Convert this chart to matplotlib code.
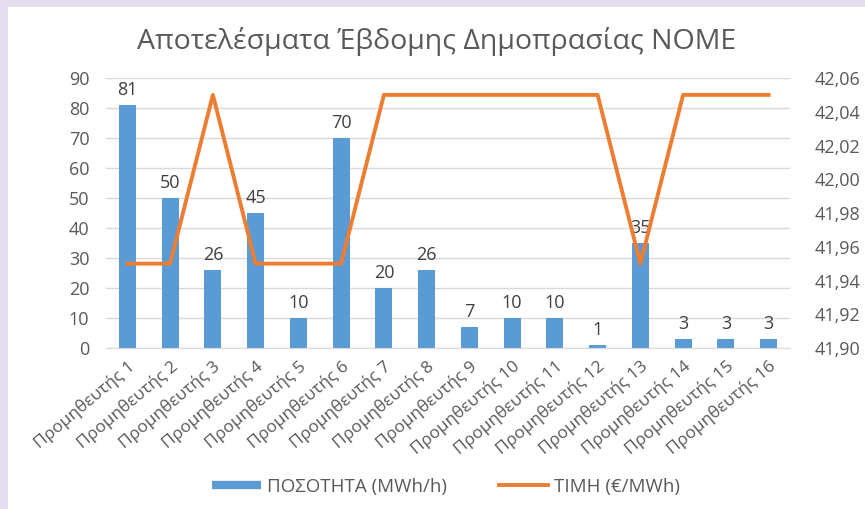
import matplotlib
matplotlib.use("Agg")
import matplotlib.pyplot as plt
from matplotlib.patches import Rectangle
from matplotlib.lines import Line2D
from matplotlib.ticker import FuncFormatter

plt.rcParams['font.family'] = ['Open Sans', 'DejaVu Sans']

categories = [f"Προμηθευτής {i}" for i in range(1, 17)]
quantity = [81, 50, 26, 45, 10, 70, 20, 26, 7, 10, 10, 1, 35, 3, 3, 3]
price = [41.95, 41.95, 42.05, 41.95, 41.95, 41.95, 42.05, 42.05, 42.05, 42.05,
         42.05, 42.05, 41.95, 42.05, 42.05, 42.05]

gray = '#595959'
fig = plt.figure(figsize=(8.65, 5.09), dpi=100)
fig.patch.set_facecolor('white')
fig.patches.append(Rectangle((0, 1 - 7/509), 1, 7/509, transform=fig.transFigure,
                             facecolor='#e4deee', edgecolor='none', zorder=0))
fig.patches.append(Rectangle((0, 0), 8/865, 1, transform=fig.transFigure,
                             facecolor='#e4deee', edgecolor='none', zorder=0))

ax = fig.add_axes([106/865, 1 - 348/509, 684/865, 270/509])
x = list(range(len(categories)))
ax.bar(x, quantity, width=0.4, color='#5B9BD5', zorder=2)
ax.set_xlim(-0.5, len(categories) - 0.5)
ax.set_ylim(0, 90)
ax.set_yticks(range(0, 91, 10))
ax.grid(axis='y', color='#D9D9D9', linewidth=1, zorder=0)
for s in ['top', 'right', 'left']:
    ax.spines[s].set_visible(False)
ax.spines['bottom'].set_color('#D9D9D9')
ax.tick_params(axis='both', length=0, colors=gray, labelsize=13)
ax.tick_params(axis='y', pad=12)
ax.tick_params(axis='x', pad=7)
ax.set_xticks(x)
ax.set_xticklabels(categories, rotation=40, ha='right', rotation_mode='anchor', fontsize=12.5)
for xi, q in zip(x, quantity):
    ax.text(xi, q + 2, str(q), ha='center', va='bottom', color='#404040', fontsize=13, zorder=4)

ax2 = ax.twinx()
ax2.plot(x, price, color='#ED7D31', linewidth=2.8, zorder=3)
ax2.set_ylim(41.90, 42.06)
ax2.set_yticks([41.90 + 0.02 * i for i in range(9)])
ax2.yaxis.set_major_formatter(FuncFormatter(lambda v, p: f"{v:.2f}".replace('.', ',')))
for s in ['top', 'right', 'left', 'bottom']:
    ax2.spines[s].set_visible(False)
ax2.tick_params(axis='y', length=0, colors=gray, labelsize=13, pad=18)

fig.text(437/865, 1 - 42/509, 'Αποτελέσματα Έβδομης Δημοπρασίας NOME', ha='center', va='center',
         fontsize=20.5, color=gray)

handles = [Line2D([0], [0], color='#5B9BD5', linewidth=6, solid_capstyle='butt'),
           Line2D([0], [0], color='#ED7D31', linewidth=2.8)]
fig.legend(handles, ['ΠΟΣΟΤΗΤΑ (MWh/h)', 'ΤΙΜΗ (€/MWh)'], loc='center',
           bbox_to_anchor=(446/865, 1 - 487/509), ncol=2, frameon=False, fontsize=13.5,
           labelcolor=gray, handlelength=2.6, handletextpad=0.3, columnspacing=2.8)

fig.savefig('out.png', dpi=100)
